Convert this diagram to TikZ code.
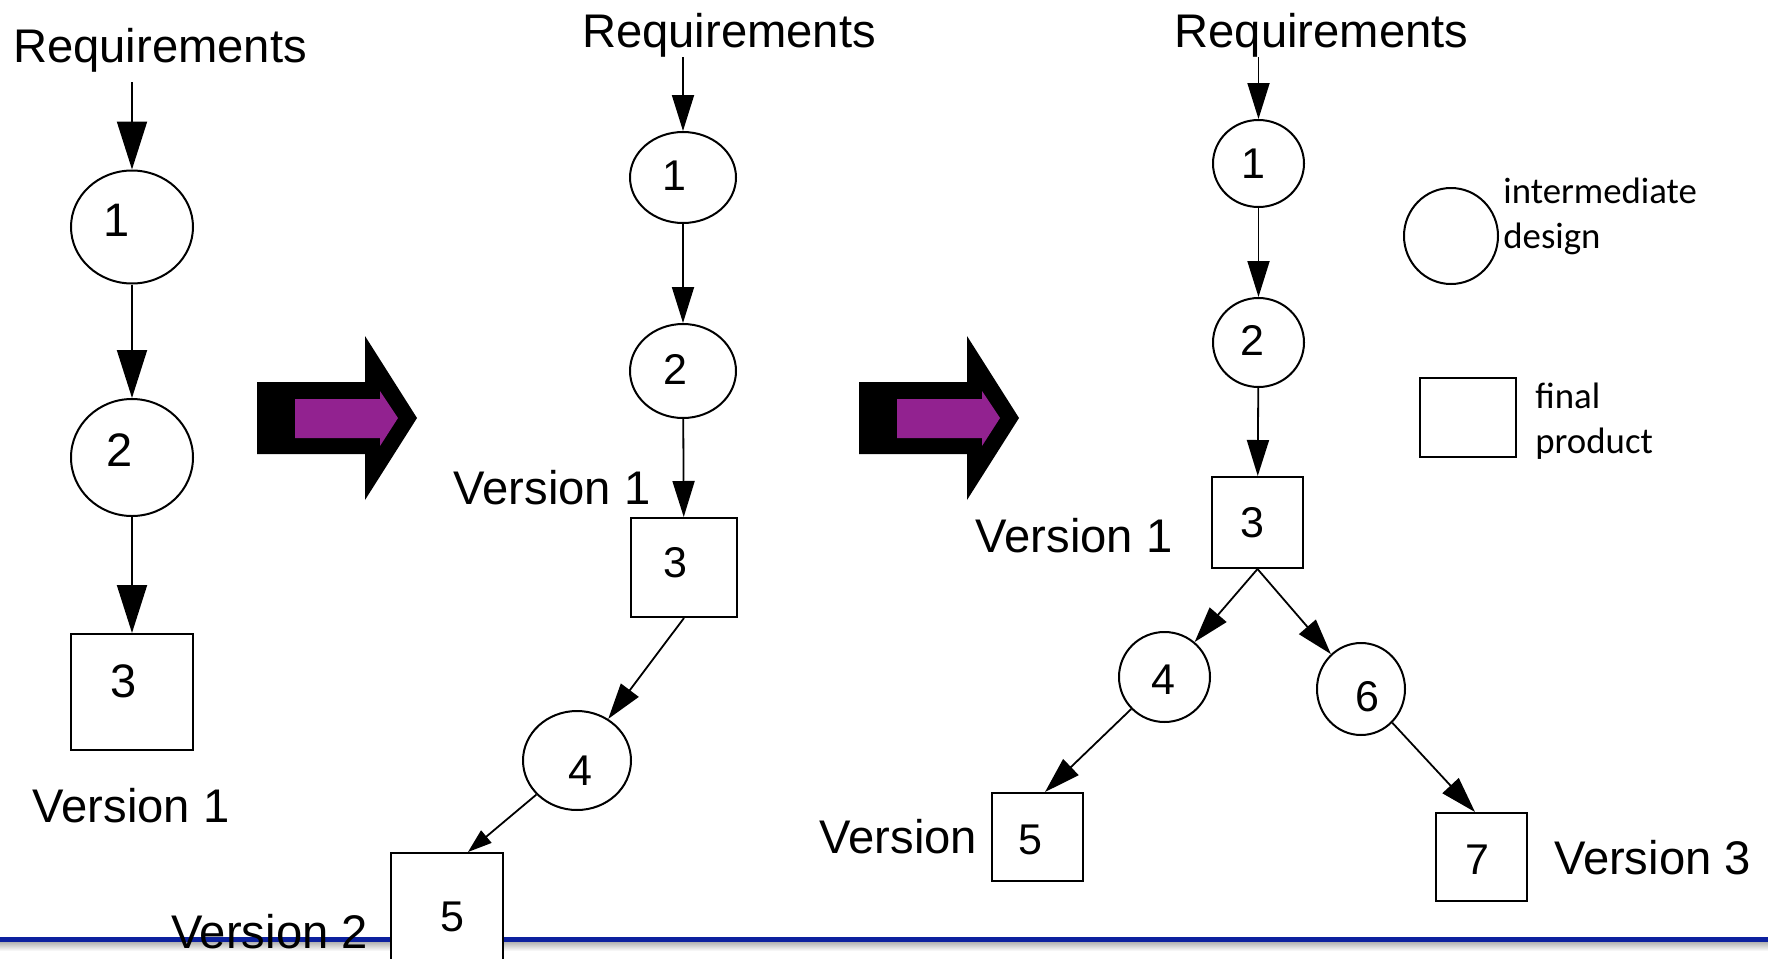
\documentclass[tikz,border=0pt]{standalone}
\usepackage{fontspec}
\setmainfont{Liberation Sans}
\newfontfamily\legendfont{Carlito}
\usetikzlibrary{arrows.meta,shapes.geometric}
\definecolor{arrowpurple}{RGB}{146,34,144}
\definecolor{rulerblue}{RGB}{12,32,158}
\tikzset{
  circ/.style={ellipse,draw,line width=1pt,inner sep=0pt,fill=white},
  sq/.style={rectangle,draw,line width=1pt,inner sep=0pt,fill=white},
  req/.style={font=\fontsize{23.6}{28}\selectfont,inner sep=0pt,anchor=base},
  ver/.style={font=\fontsize{23.6}{28}\selectfont,inner sep=0pt,anchor=base},
  numbig/.style={font=\fontsize{23.5}{28}\selectfont,inner sep=0pt},
  num/.style={font=\fontsize{21.5}{26}\selectfont,inner sep=0pt},
  legtext/.style={font=\legendfont\fontsize{18.4}{22.5}\selectfont,inner sep=0pt,align=left,anchor=base west},
  bigtip/.style={-{Triangle[length=24pt,width=15pt]},line width=1pt},
  tip/.style={-{Triangle[length=18pt,width=11pt]},line width=0.9pt},
  smalltip/.style={-{Triangle[length=12pt,width=8pt]},line width=0.9pt},
  bigarrow/.pic={
    \fill[black] (0,0) -- (108,0) -- (108,-46) -- (160,36) -- (108,118) -- (108,72) -- (0,72) -- cycle;
    \fill[arrowpurple] (38,17) -- (123,17) -- (123,9) -- (141,36) -- (123,64) -- (123,56) -- (38,56) -- cycle;
  }
}
\begin{document}
\begin{tikzpicture}[x=0.5pt,y=-0.5pt]
\useasboundingbox (0,0) rectangle (1768,959);
\clip (0,0) rectangle (1768,959);

% bottom rule with shadow
\shade[top color=black!30,bottom color=white] (0,942) rectangle (1768,951);
\draw[rulerblue,line width=2.7pt] (0,939.5) -- (1768,939.5);

% ---------- column 1 ----------
\node[req] (r1) at (160,62) {Requirements};
\node[circ,minimum width=61pt,minimum height=56.5pt,label={[numbig,xshift=-7.5pt,yshift=3.5pt]center:1}] (c1a) at (132,227) {};
\node[circ,minimum width=61pt,minimum height=58.5pt,label={[numbig,xshift=-6pt,yshift=3.5pt]center:2}] (c1b) at (132,457.5) {};
\node[sq,minimum width=61pt,minimum height=58pt,label={[numbig,xshift=-4pt,yshift=5.5pt]center:3}] (s1c) at (132,692) {};
\node[ver] (v1a) at (131,822) {Version 1};
\draw[bigtip,shorten <=5pt] (r1.south -| c1a) -- (c1a);
\draw[bigtip] (c1a) -- (c1b);
\draw[bigtip] (c1b) -- (s1c);

% ---------- transition arrows ----------
\pic at (257,382) {bigarrow};
\pic at (859,382) {bigarrow};

% ---------- column 2 ----------
\node[req] (r2) at (729,47) {Requirements};
\node[circ,minimum width=53pt,minimum height=45.5pt,label={[num,xshift=-4.5pt,yshift=1pt]center:1}] (c2a) at (683,177.5) {};
\node[circ,minimum width=53pt,minimum height=47pt,label={[num,xshift=-4pt,yshift=1pt]center:2}] (c2b) at (683,371) {};
\node[sq,minimum width=53pt,minimum height=49.5pt,label={[num,xshift=-4.5pt,yshift=2.25pt]center:3}] (s2c) at (684,567.5) {};
\node[circ,minimum width=54pt,minimum height=49.5pt,label={[num,xshift=1.5pt,yshift=-5pt]center:4}] (c2d) at (577,760.5) {};
\node[sq,minimum width=56pt,minimum height=56pt,label={[num,xshift=2.5pt,yshift=-4pt]center:5}] (s2e) at (447,909) {};
\node[ver] (v2a) at (552,504) {Version 1};
\node[ver] (v2b) at (269.5,948) {Version 2};
\draw[tip] (r2.south -| c2a) -- (c2a);
\draw[tip] (c2a) -- (c2b);
\draw[tip] (c2b) -- (s2c);
\draw[tip] (s2c.south) -- (c2d);
\draw[smalltip] (c2d) -- ([xshift=10.5pt]s2e.north);

% ---------- column 3 ----------
\node[req] (r3) at (1321.5,47) {Requirements};
\node[circ,minimum width=45.5pt,minimum height=43.5pt,label={[num,xshift=-2.75pt]center:1}] (c3a) at (1258.5,163.5) {};
\node[circ,minimum width=45.5pt,minimum height=44.5pt,label={[num,xshift=-3.25pt,yshift=1pt]center:2}] (c3b) at (1258.5,342.5) {};
\node[sq,minimum width=45.5pt,minimum height=45.5pt,label={[num,xshift=-2.75pt]center:3}] (s3c) at (1257.5,522.5) {};
\node[circ,minimum width=45.5pt,minimum height=45pt,label={[num,xshift=-0.75pt,yshift=-1.5pt]center:4}] (c3d) at (1164.5,677) {};
\node[circ,minimum width=44pt,minimum height=46pt,label={[num,xshift=3pt,yshift=-4pt]center:6}] (c3f) at (1361,689) {};
\node[sq,minimum width=45.5pt,minimum height=44pt,label={[num,xshift=-3.75pt,yshift=-1.5pt]center:5}] (s3e) at (1037.5,837) {};
\node[sq,minimum width=45.5pt,minimum height=44pt,label={[num,xshift=-2.25pt,yshift=-1.5pt]center:7}] (s3g) at (1481.5,857) {};
\node[ver] (v3a) at (1074,552) {Version 1};
\node[ver] (v3b) at (898.5,853) {Version};
\node[ver] (v3c) at (1652.5,874) {Version 3};
\draw[tip] (r3.south -| c3a) -- (c3a);
\draw[tip] (c3a) -- (c3b);
\draw[tip] (c3b) -- (s3c);
\draw[tip] (s3c.south) -- (c3d);
\draw[tip] (s3c.south) -- (c3f);
\draw[tip] (c3d) -- ([xshift=3.75pt]s3e.north);
\draw[tip] (c3f) -- ([xshift=-3.25pt]s3g.north);

% ---------- legend ----------
\node[circ,minimum width=47pt,minimum height=48pt] (lc) at (1451,236) {};
\node[legtext] (lt1) at (1503,248) {intermediate\\design};
\node[sq,minimum width=48pt,minimum height=39.5pt] (ls) at (1468,417.5) {};
\node[legtext] (lt2) at (1535,453) {final\\product};
\end{tikzpicture}
\end{document}
